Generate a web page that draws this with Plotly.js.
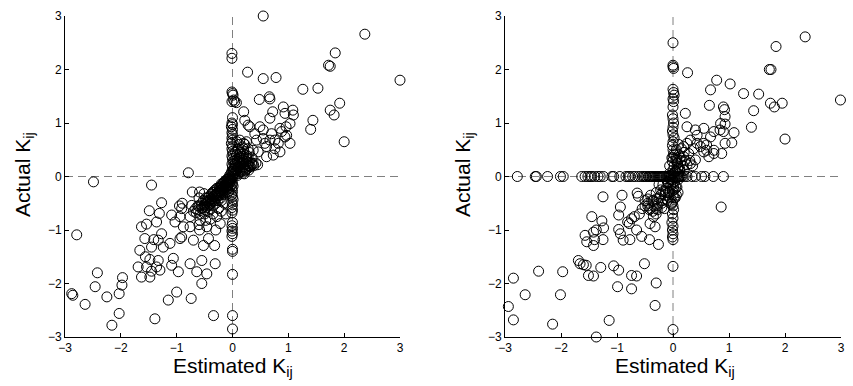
<!DOCTYPE html>
<html>
<head>
<meta charset="utf-8">
<script src="https://cdn.plot.ly/plotly-3.0.1.min.js"></script>
<style>
  html, body { margin: 0; padding: 0; background: #fff; }
  #plot { width: 853px; height: 386px; }
</style>
</head>
<body>
<div id="plot"></div>
<script>
// left panel: estimated vs actual K_ij (first method)
let leftEst = [
    0.55, 2.37, 3.0, 1.84, 1.72, 1.75, 0.27, 0.55, 0.78, 1.26, 1.53, 0.48, 0.66, 0.67, 1.92, 1.75, 1.82, 1.40, 1.44, 2.0,
    0.07, 0.04, 0.2, 0.22, 0.28, 0.31, 0.91, 0.94, 1.08, 1.09, 1.03, 0.88, 0.97, 0.96, 0.67, 0.72, 0.49, 0.55, 0.40, 0.13,
    0.20, 0.37, 0.46, 0.61, 0.67, 0.76, 0.82, 0.73, 0.61, 0.85, 1.03, 0.94, 0.43, 0.28, 0.37, 0.28, 0.13, 0.25, 0.10, 0.20,
    0.55, 0.58, 0.70, 0.76, 0.85,
    -2.88, -2.86, -2.79, -2.49, -2.64, -2.46, -2.42, -2.25, -2.16, -2.03, -2.03, -1.98, -1.97, -1.69, -1.63, -1.66, -1.63, -1.57, -1.56, -1.54,
    -1.48, -1.45, -1.49, -1.45, -1.39, -1.36, -1.33, -1.45, -1.41, -1.33, -1.36, -1.31, -1.27, -1.24, -1.30, -1.27, -1.12, -1.15, -1.09, -1.06,
    -1.00, -0.97, -1.03, -1.09, -0.94, -0.91, -0.91, -0.88, -0.94, -0.79, -0.76, -0.74, -0.64, -0.70, -0.76, -0.76, -0.73, -0.55, -0.55, -0.46,
    -0.52, -0.43, -0.58, -0.59, -0.46, -0.34, -0.31, -0.32, -0.22, -0.28, -1.54, -1.48, -0.90, -0.95, -0.62, -0.65, -0.72, -0.59, -0.51, -0.60,
    -0.50, -0.48, -0.40, -0.35, -0.25, -0.20, -0.15, -0.30, -0.12, -0.20,
    -0.60, -0.58, -0.55, -0.52, -0.50, -0.50, -0.48, -0.46, -0.45, -0.44, -0.42, -0.42, -0.40, -0.40, -0.38, -0.38, -0.36, -0.35, -0.34, -0.33,
    -0.32, -0.30, -0.30, -0.29, -0.28, -0.27, -0.26, -0.25, -0.24, -0.23, -0.22, -0.21, -0.20, -0.20, -0.19, -0.18, -0.17, -0.16, -0.15, -0.15,
    -0.14, -0.13, -0.12, -0.12, -0.11, -0.10, -0.10, -0.09, -0.08, -0.07, -0.07, -0.06, -0.05, -0.05, -0.04, -0.03, -0.03, -0.02, -0.02, -0.01,
    0.02, 0.03, 0.04, 0.05, 0.06, 0.07, 0.08, 0.09, 0.10, 0.10, 0.12, 0.13, 0.14, 0.15, 0.16, 0.18, 0.18, 0.20, 0.21, 0.22,
    0.24, 0.25, 0.27, 0.28, 0.30, 0.32, 0.35, 0.38, 0.42, 0.45, 0.05, 0.15, 0.10, 0.20, 0.25, 0.30, 0.35, 0.12, 0.18, 0.22,
    0.28, 0.08,
    -0.01, -0.01, -0.01, 0.00, 0.01, 0.02, -0.01, 0.00, -0.01, 0.00, -0.02, 0.00, -0.01, 0.00, -0.01, 0.00, -0.02, 0.00, -0.01, 0.00,
    0.01, -0.01, 0.00, 0.01, -0.01, 0.00, 0.01, -0.01, 0.00, 0.00, -0.01, 0.00, 0.01, -0.01, 0.00, -0.01, 0.00, 0.01, -0.01, 0.00,
    -0.01, 0.00, -0.01, 0.00, -0.01, 0.00, -0.01, 0.00, -0.01, 0.00, 0.00, 0.00, 0.00, 0.00
];
let leftAct = [
    3.00, 2.66, 1.80, 2.31, 2.08, 2.06, 1.95, 1.83, 1.85, 1.63, 1.65, 1.44, 1.49, 1.45, 1.37, 1.24, 1.15, 0.88, 1.05, 0.65,
    1.38, 1.40, 1.21, 1.05, 0.96, 0.93, 1.30, 1.18, 1.24, 1.15, 0.99, 0.84, 0.77, 0.93, 1.09, 1.21, 0.93, 0.87, 0.80, 0.68,
    0.62, 0.49, 0.46, 0.56, 0.68, 0.68, 0.62, 0.40, 0.37, 0.46, 0.62, 0.74, 0.68, 0.37, 0.24, 0.24, 0.37, 0.65, 0.52, 0.52,
    0.71, 0.62, 0.80, 0.52, 0.90,
    -2.19, -2.22, -1.09, -0.10, -2.39, -2.06, -1.80, -2.25, -2.78, -2.56, -2.19, -2.03, -1.89, -1.69, -1.88, -1.38, -0.94, -1.16, -1.50, -1.69,
    -1.88, -1.77, -0.64, -0.16, -2.66, -1.69, -1.57, -1.32, -1.18, -1.19, -0.85, -0.69, -1.07, -1.32, -1.75, -0.49, -1.25, -2.31, -1.66, -1.53,
    -2.16, -1.78, -0.85, -0.72, -0.75, -0.60, -1.13, -0.94, -1.16, 0.07, -1.63, -2.28, -1.78, -1.19, -0.94, -0.75, -0.54, -1.57, -2.00, -1.82,
    -1.29, -1.16, -0.82, -1.00, -0.94, -2.60, -1.63, -1.29, -0.88, -0.75, -0.89, -1.55, -0.50, -0.55, -0.62, -0.68, -0.29, -0.29, -0.32, -0.90,
    -0.70, -0.82, -0.80, -0.70, -0.60, -0.65, -0.50, -1.00, -0.70, -0.45,
    -0.55, -0.70, -0.60, -0.45, -0.62, -0.52, -0.40, -0.58, -0.48, -0.66, -0.38, -0.52, -0.45, -0.60, -0.33, -0.50, -0.42, -0.55, -0.30, -0.46,
    -0.36, -0.28, -0.50, -0.40, -0.32, -0.22, -0.45, -0.30, -0.36, -0.20, -0.26, -0.40, -0.18, -0.30, -0.24, -0.14, -0.34, -0.20, -0.10, -0.26,
    -0.16, -0.30, -0.08, -0.20, -0.13, -0.05, -0.24, -0.10, -0.16, -0.03, -0.28, -0.08, -0.12, 0.02, -0.20, -0.05, 0.05, -0.15, -0.35, 0.10,
    0.05, 0.15, 0.30, 0.08, 0.20, 0.40, 0.12, 0.28, 0.05, 0.18, 0.35, 0.10, 0.22, 0.30, 0.14, 0.06, 0.25, 0.18, 0.33, 0.10,
    0.22, 0.28, 0.15, 0.20, 0.26, 0.18, 0.22, 0.20, 0.25, 0.22, 0.45, 0.45, 0.50, 0.42, 0.40, 0.45, 0.35, 0.60, 0.55, 0.60,
    0.52, 0.65,
    2.30, 2.21, 1.58, 1.55, 1.52, 1.43, 1.40, 1.10, 1.00, 0.97, 0.93, 0.88, 0.82, 0.78, 0.72, 0.68, 0.62, 0.57, 0.52, 0.47,
    0.42, 0.38, 0.33, 0.28, 0.23, 0.18, 0.13, 0.08, 0.03, -0.03, -0.08, -0.13, -0.18, -0.23, -0.28, -0.33, -0.38, -0.43, -0.48, -0.53,
    -0.58, -0.63, -0.68, -0.86, -0.92, -0.97, -1.02, -1.07, -1.12, -1.36, -1.40, -1.83, -2.60, -2.85
];
// dense core of the left panel (the black bow-tie round the origin)
let leftCoreEst = [
    -0.55, -0.53, -0.50, -0.47, -0.45, -0.43, -0.41, -0.39, -0.37, -0.35, -0.33, -0.31, -0.29, -0.27, -0.25, -0.23, -0.21, -0.19, -0.17, -0.15,
    -0.13, -0.11, -0.09, -0.07, -0.05, -0.03, -0.44, -0.36, -0.28, -0.20, -0.12, -0.04, -0.48, -0.32, -0.16, -0.08, -0.62, -0.66, -0.70, -0.60,
    0.02, 0.04, 0.06, 0.08, 0.10, 0.12, 0.14, 0.16, 0.18, 0.20, 0.22, 0.24, 0.26, 0.30, 0.34, 0.05, 0.09, 0.13, 0.17, 0.21,
    0.25, 0.29
];
let leftCoreAct = [
    -0.50, -0.58, -0.55, -0.50, -0.55, -0.45, -0.52, -0.42, -0.46, -0.38, -0.42, -0.34, -0.36, -0.30, -0.34, -0.26, -0.30, -0.22, -0.24, -0.18,
    -0.20, -0.14, -0.18, -0.10, -0.06, -0.08, -0.40, -0.30, -0.22, -0.14, -0.10, -0.02, -0.46, -0.26, -0.12, -0.05, -0.55, -0.60, -0.65, -0.40,
    0.10, 0.22, 0.05, 0.32, 0.15, 0.25, 0.08, 0.38, 0.30, 0.26, 0.16, 0.12, 0.32, 0.20, 0.25, 0.25, 0.02, 0.42, 0.10, 0.05,
    0.35, 0.12
];

// right panel: estimated vs actual K_ij (second method)
let rightEst = [
    2.36, 1.84, 1.72, 1.75, 2.99, 2.00, 1.74, 1.81, 1.95, 1.53, 1.26, 1.44, 1.40, 1.02, 0.78, 0.67, 0.65, 0.26, 0.90, 0.93,
    0.92, 1.05, 1.09, 0.85, 0.93, 0.73, 0.55, 0.40, 0.22, 0.25, 0.60, 0.73, 0.64, 0.93, 0.87, 0.55, 0.43, 0.86, 0.43, 0.67,
    0.60, 0.31, 0.25, 0.19, 0.37, 0.28, 0.40, 0.31, 0.19, 0.10, 0.13, 0.84, 0.90, 0.73, 0.55, 0.49,
    -2.78, -2.46, -2.44, -2.24, -2.01, -1.96, -1.63, -1.57, -1.52, -1.48, -1.45, -1.40, -1.34, -1.30, -1.24, -1.09, -1.06, -0.95, -0.84, -0.80,
    -0.77, -0.72, -0.68, -0.62, -0.58, -0.54, -0.47, -0.42, -0.38, -0.34, -0.29, -0.25, -0.21, -0.17, -0.13, -0.09, -0.05, 0.04, 0.08, 0.12,
    0.16, 0.25, 0.34, 0.40, 0.51, 0.57, 0.72, 0.90,
    0.00, 0.00, 0.00, 0.01, 0.00, 0.01, 0.02, 0.00, 0.01, 0.00, -0.01, 0.00, 0.01, 0.00, -0.01, 0.00, 0.02, 0.00, -0.01, 0.00,
    0.01, 0.00, -0.01, 0.02, 0.00, 0.01, -0.01, 0.00, 0.01, -0.01, 0.00, 0.02, -0.01, 0.00, 0.01, -0.01, 0.00, -0.02, 0.00, -0.01,
    0.00, -0.01, 0.00, 0.00, 0.00,
    -2.94, -2.85, -2.85, -2.64, -2.40, -2.15, -2.01, -1.97, -1.69, -1.66, -1.60, -1.55, -1.51, -1.42, -1.29, -1.57, -1.54, -1.45, -1.42, -1.40,
    -1.42, -1.37, -1.27, -1.25, -1.24, -1.25, -1.37, -1.14, -1.06, -0.97, -0.99, -0.97, -0.94, -0.89, -0.94, -0.91, -0.97, -0.77, -0.74, -0.74,
    -0.65, -0.81, -0.74, -0.69, -0.65, -0.56, -0.42, -0.51, -0.32, -0.30, -0.26, -0.41, -0.32, -0.35, -0.78, -0.64, -0.62, -0.50, -0.45, -0.40,
    -0.45, -0.30, -0.30,
    -0.30, -0.25, -0.22, -0.20, -0.18, -0.15, -0.12, -0.10, -0.08, -0.06, -0.04, -0.03, -0.35, -0.40, -0.28, -0.15, -0.10, -0.25, -0.18, -0.08,
    0.05, 0.08, 0.10, 0.12, 0.15, 0.18, 0.20, 0.22, 0.25, 0.06, 0.10, 0.15, 0.20, 0.30, 0.35, -0.05, 0.03, 0.06, 0.09, 0.05,
    0.08, 0.04, 0.10, 0.07
];
let rightAct = [
    2.61, 2.43, 2.00, 2.00, 1.43, 0.70, 1.37, 1.30, 1.37, 1.54, 1.55, 1.23, 0.92, 1.73, 1.80, 1.62, 1.33, 1.94, 1.30, 1.12,
    1.25, 0.63, 0.82, 0.99, 0.98, 0.84, 0.90, 0.87, 1.18, 0.93, 0.49, 0.49, 0.37, 0.62, 0.43, 0.62, 0.62, -0.57, 0.77, 0.74,
    0.59, 0.68, 0.62, 0.56, 0.52, 0.43, 0.31, 0.24, 0.37, 0.18, 0.37, 0.87, 0.84, 0.43, 0.46, 0.56,
    0, 0, 0, 0, 0, 0, 0, 0, 0, 0, 0, 0, 0, 0, 0, 0, 0, 0, 0, 0,
    0, 0, 0, 0, 0, 0, 0, 0, 0, 0, 0, 0, 0, 0, 0, 0, 0, 0, 0, 0,
    0, 0, 0, 0, 0, 0, 0, 0,
    2.50, 2.08, 2.05, 2.02, 1.63, 1.57, 1.52, 1.45, 1.40, 1.30, 1.15, 1.08, 1.00, 0.92, 0.85, 0.78, 0.72, 0.65, 0.58, 0.50,
    0.42, 0.35, 0.28, 0.20, 0.12, 0.06, -0.06, -0.12, -0.20, -0.27, -0.34, -0.40, -0.48, -0.55, -0.62, -0.70, -0.78, -0.86, -0.93, -1.00,
    -1.07, -1.13, -1.18, -1.68, -2.86,
    -2.43, -2.68, -1.90, -2.21, -1.77, -2.76, -2.21, -1.78, -1.57, -1.63, -1.65, -1.66, -1.85, -1.86, -1.70, -1.10, -1.22, -0.75, -1.04, -1.18,
    -1.29, -1.00, -0.83, -1.18, -0.96, -0.38, -3.00, -2.69, -1.67, -1.75, -2.06, -0.99, -1.07, -1.19, -0.57, -0.35, -0.72, -1.18, -2.10, -1.85,
    -1.86, -0.85, -0.79, -0.75, -1.00, -1.12, -1.18, -1.63, -2.41, -1.99, -1.27, -0.88, -0.94, -0.75, -0.88, -0.31, -0.37, -0.45, -0.55, -0.60,
    -0.42, -0.60, -0.70,
    -0.30, -0.40, -0.25, -0.50, -0.15, -0.35, -0.22, -0.45, -0.12, -0.30, -0.18, -0.52, -0.45, -0.35, -0.55, -0.60, -0.10, -0.15, -0.28, -0.38,
    0.10, 0.25, 0.40, 0.15, 0.30, 0.20, 0.12, 0.30, 0.22, 0.50, 0.60, 0.52, 0.45, 0.30, 0.20, -0.05, -0.10, 0.35, -0.30, -0.20,
    0.15, -0.40, 0.05, 0.30
];
// dense core of the right panel (horizontal bar, central block, lower diagonal)
let rightCoreEst = [
    -0.52, -0.49, -0.44, -0.40, -0.36, -0.32, -0.27, -0.23, -0.19, -0.15, -0.11, -0.07, -0.03, 0.01, 0.06, 0.10, 0.14, 0.20,
    -0.08, -0.06, -0.04, -0.02, 0.02, 0.04, 0.06, 0.08, -0.07, -0.05, 0.03, 0.07, -0.09, 0.09, -0.03, 0.05, 0.10, 0.12,
    -0.50, -0.45, -0.42, -0.38, -0.34, -0.30, -0.26, -0.22, -0.18, -0.14, -0.36, -0.28, -0.20, -0.55, -0.60
];
let rightCoreAct = [
    0, 0, 0, 0, 0, 0, 0, 0, 0, 0, 0, 0, 0, 0, 0, 0, 0, 0,
    -0.30, 0.20, -0.15, 0.35, -0.25, 0.10, -0.35, 0.25, 0.05, -0.40, 0.40, -0.20, -0.10, 0.15, -0.50, 0.30, -0.05, 0.10,
    -0.55, -0.50, -0.62, -0.45, -0.55, -0.42, -0.50, -0.35, -0.45, -0.30, -0.65, -0.62, -0.58, -0.60, -0.70
];

let tickVals = [-3, -2, -1, 0, 1, 2, 3];
let tickText = ['\u22123', '\u22122', '\u22121', '0', '1', '2', '3'];

let marker = {
    symbol: 'circle-open',
    size: 10,
    color: '#000',
    line: { width: 1, color: '#000' },
};

let data = [{
    x: leftEst.concat(leftCoreEst),
    y: leftAct.concat(leftCoreAct),
    mode: 'markers',
    type: 'scatter',
    marker: marker,
    cliponaxis: false,
    xaxis: 'x',
    yaxis: 'y',
}, {
    x: rightEst.concat(rightCoreEst),
    y: rightAct.concat(rightCoreAct),
    mode: 'markers',
    type: 'scatter',
    marker: marker,
    cliponaxis: false,
    xaxis: 'x2',
    yaxis: 'y2',
}];

function axisStyle(domain, anchor) {
    return {
        domain: domain,
        anchor: anchor,
        range: [-3, 3],
        tickvals: tickVals,
        ticktext: tickText,
        ticks: 'inside',
        ticklen: 4,
        tickcolor: '#000',
        showline: true,
        linecolor: '#000',
        linewidth: 1,
        mirror: false,
        showgrid: false,
        zeroline: false,
        automargin: false,
        tickfont: { family: 'Liberation Sans, Arial, sans-serif', size: 12, color: '#000' },
    };
}

let dashLine = { color: '#808080', width: 1, dash: '8px,5px' };
let titleFont = { family: 'Liberation Sans, Arial, sans-serif', size: 21, color: '#000' };

let layout = {
    width: 853,
    height: 386,
    margin: { l: 0, r: 0, t: 0, b: 0, pad: 0 },
    showlegend: false,
    paper_bgcolor: '#fff',
    plot_bgcolor: '#fff',
    xaxis: axisStyle([65/853, 400/853], 'y'),
    yaxis: axisStyle([1 - 337/386, 1 - 16/386], 'x'),
    xaxis2: axisStyle([505/853, 841/853], 'y2'),
    yaxis2: axisStyle([1 - 337/386, 1 - 16/386], 'x2'),
    shapes: [
        { type: 'line', xref: 'x', yref: 'y', x0: 0, x1: 0, y0: -3, y1: 3, line: dashLine, layer: 'below' },
        { type: 'line', xref: 'x', yref: 'y', x0: -3, x1: 3, y0: 0, y1: 0, line: dashLine, layer: 'below' },
        { type: 'line', xref: 'x2', yref: 'y2', x0: 0, x1: 0, y0: -3, y1: 3, line: dashLine, layer: 'below' },
        { type: 'line', xref: 'x2', yref: 'y2', x0: -3, x1: 3, y0: 0, y1: 0, line: dashLine, layer: 'below' },
    ],
    annotations: [
        { text: 'Actual K<sub>ij</sub>', xref: 'paper', yref: 'paper', x: 24/853, y: 1 - 175/386,
          textangle: -90, showarrow: false, font: titleFont, xanchor: 'center', yanchor: 'middle' },
        { text: 'Estimated K<sub>ij</sub>', xref: 'paper', yref: 'paper', x: 233/853, y: 1 - 367/386,
          showarrow: false, font: titleFont, xanchor: 'center', yanchor: 'middle' },
        { text: 'Actual K<sub>ij</sub>', xref: 'paper', yref: 'paper', x: 464/853, y: 1 - 175/386,
          textangle: -90, showarrow: false, font: titleFont, xanchor: 'center', yanchor: 'middle' },
        { text: 'Estimated K<sub>ij</sub>', xref: 'paper', yref: 'paper', x: 675/853, y: 1 - 367/386,
          showarrow: false, font: titleFont, xanchor: 'center', yanchor: 'middle' },
    ],
};

Plotly.newPlot('plot', data, layout, { staticPlot: true });
</script>
</body>
</html>
